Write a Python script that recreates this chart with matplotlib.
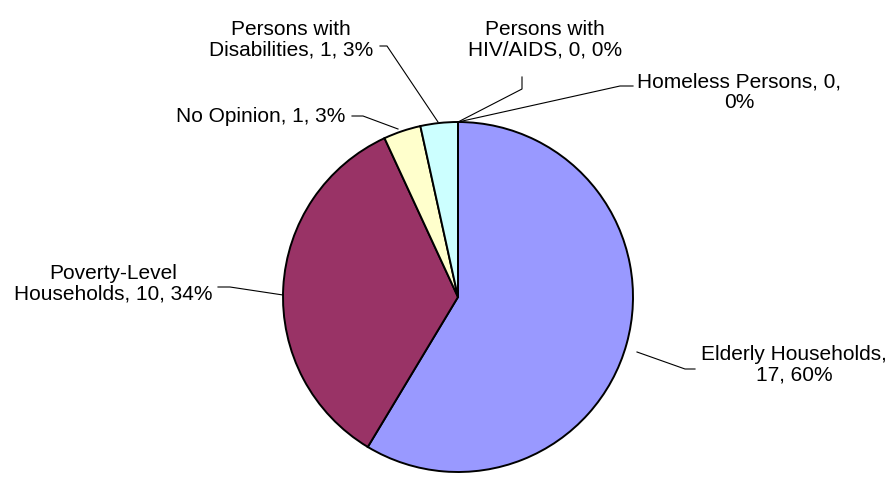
import matplotlib
matplotlib.use("Agg")
import matplotlib.pyplot as plt
from matplotlib import font_manager

names = {f.name for f in font_manager.fontManager.ttflist}
fam = "Liberation Sans Narrow" if "Liberation Sans Narrow" in names else "Liberation Sans"
plt.rcParams['font.family'] = [fam, 'DejaVu Sans']

# data
categories = ["Elderly Households", "Poverty-Level Households", "No Opinion",
              "Persons with Disabilities", "Persons with HIV/AIDS", "Homeless Persons"]
counts = [17, 10, 1, 1, 0, 0]
label_text = ["Elderly Households,\n17, 60%",
              "Poverty-Level\nHouseholds, 10, 34%",
              "No Opinion, 1, 3%",
              "Persons with\nDisabilities, 1, 3%",
              "Persons with\nHIV/AIDS, 0, 0%",
              "Homeless Persons, 0,\n0%"]
colors = ["#9999FF", "#993366", "#FFFFCC", "#CCFFFF", "#660066", "#FF8080"]

W, H = 891, 485
fig = plt.figure(figsize=(W / 100, H / 100), dpi=100)
ax = fig.add_axes([0, 0, 1, 1])

cx, cy, r = 458, H - 298, 175
ax.pie(counts, colors=colors, startangle=90, counterclock=False,
       center=(cx, cy), radius=r, frame=True,
       wedgeprops=dict(edgecolor="black", linewidth=1.4))
ax.set_xlim(0, W)
ax.set_ylim(0, H)
ax.axis("off")

# label positions (pixel coords, y from top) and leader lines
label_pos = [(794, 365), (113, 284), (261, 117), (291, 40), (545, 40), (739, 92)]
leaders = [
    [(695, 370), (685, 370), (637, 353)],
    [(218, 288), (230, 288), (283, 296)],
    [(352, 117), (363, 117), (398, 130)],
    [(380, 47), (387, 47), (438, 123)],
    [(522, 78), (522, 90), (458, 123)],
    [(633, 87), (620, 87), (458, 123)],
]

for txt, (x, y) in zip(label_text, label_pos):
    ax.text(x, H - y, txt, ha="center", va="center", fontsize=15,
            linespacing=1.12, color="black")

for pts in leaders:
    xs = [p[0] for p in pts]
    ys = [H - p[1] for p in pts]
    ax.plot(xs, ys, color="black", linewidth=0.8)

fig.savefig("out.png", dpi=100)
